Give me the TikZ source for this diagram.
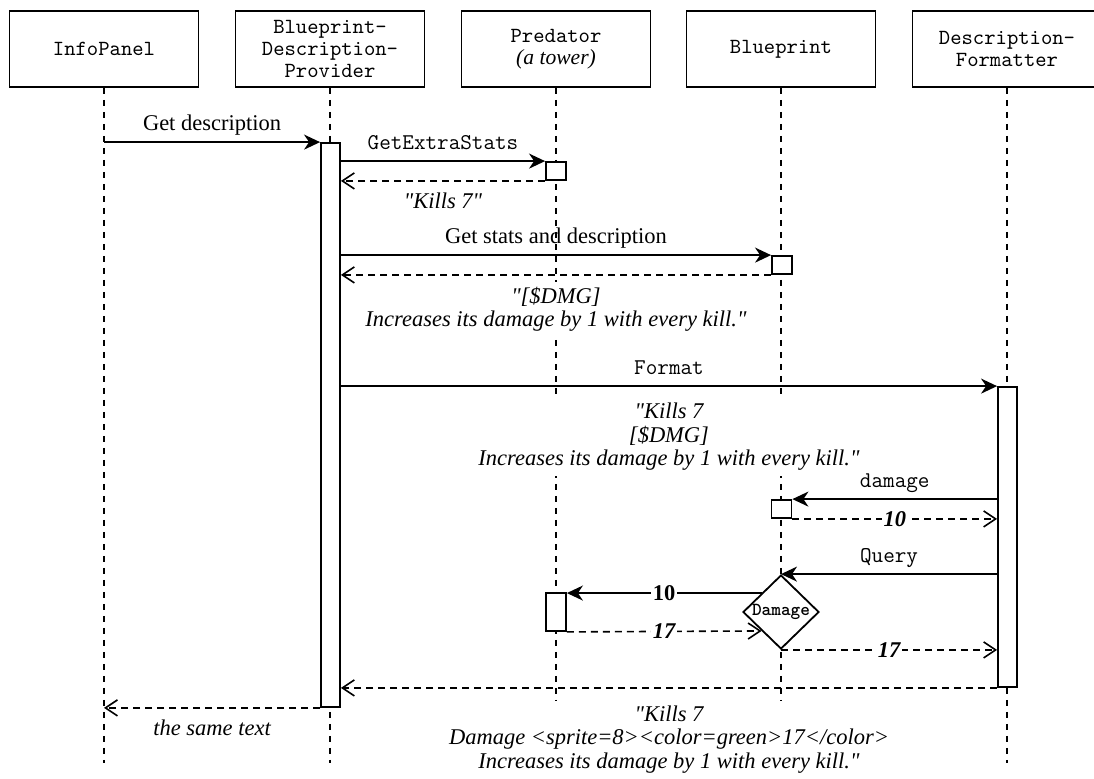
\documentclass[tikz,border=0pt]{standalone}
\usepackage{fontspec}
\setmainfont{Liberation Serif}[Ligatures=TeXOff]
\usepackage{tikz}
\usetikzlibrary{arrows.meta, shapes.geometric}

\begin{document}
\fontsize{11.25}{11.8}\selectfont
\begin{tikzpicture}[x=0.5pt, y=-0.5pt,
    head/.style={draw, line width=0.9pt, minimum width=94.5pt,
                 minimum height=38pt, align=center,
                 font=\ttfamily\fontsize{10.8}{11}\selectfont},
    life/.style={line width=0.8pt, dash pattern=on 3pt off 3pt},
    act/.style={draw, fill=white, line width=0.9pt, minimum width=9.5pt,
                inner sep=0pt},
    msg/.style={-{Stealth[length=8pt, width=7.5pt, inset=2.5pt]}, line width=0.9pt},
    ret/.style={-{Straight Barb[length=6pt, width=8pt]}, line width=0.8pt,
                dash pattern=on 3.5pt off 2.5pt},
    call/.style={anchor=base, yshift=6pt},
    code/.style={call, font=\ttfamily},
    reply/.style={below=3pt, inner sep=2.5pt, align=center, fill=white,
                  font=\itshape},
    val/.style={fill=white, inner sep=1pt, font=\bfseries\itshape}
  ]
    \useasboundingbox (0,0) rectangle (1094,778);
    \coordinate (end) at (0,763);
    % participants and lifelines
    \node[head] (ip) at (104,49) {InfoPanel};
    \node[head] (bdp) at (330,49) {Blueprint-\\Description-\\Provider};
    \node[head] (pred) at (556,49) {Predator\\{\rmfamily\itshape (a tower)}};
    \node[head] (bp) at (781,49) {Blueprint};
    \node[head] (df) at (1007,49) {Description-\\Formatter};
    \draw[life] (ip.south) -- (ip.south |- end);
    \draw[life] (bdp.south) -- (bdp.south |- end);
    \draw[life] (pred.south) -- (pred.south |- end);
    \draw[life] (bp.south) -- (bp.south |- end);
    \draw[life] (df.south) -- (df.south |- end);
    % activations
    \node[act, minimum height=282pt] (abdp) at (330.5,425) {};
    \node[act, minimum width=10pt, minimum height=9pt] (apred) at (556,171) {};
    \node[act, minimum width=10pt, minimum height=9pt] (abp) at (782,265) {};
    \node[act, minimum height=150pt] (adf) at (1007.5,537) {};
    \node[act, minimum width=10pt, minimum height=9pt] (abp2) at (781.5,509) {};
    \node[act, minimum width=10pt, minimum height=19pt] (apred2) at (556,612) {};
    \node[draw, diamond, fill=white, line width=0.9pt, minimum width=38pt,
          minimum height=37pt, inner sep=0pt,
          font=\ttfamily\bfseries\fontsize{9.2}{10}\selectfont] (dmg) at (781,612) {Damage};
    % messages
    \draw[msg] (ip.south |- abdp.north) -- (abdp.north west)
      node[call, midway] {Get description};
    \draw[msg] (abdp.east |- apred.north) -- (apred.north west)
      node[code, midway] {GetExtraStats};
    \draw[ret] (apred.south west) -- (abdp.east |- apred.south)
      node[reply, midway] {"Kills 7"};
    \draw[msg] (abdp.east |- abp.north) -- (abp.north west)
      node[call, midway] {Get stats and description};
    \draw[ret] (abp.south west) -- (abdp.east |- abp.south)
      node[reply, midway] {"[\$DMG]\\Increases its damage by 1 with every kill."};
    \draw[msg] (abdp.east |- adf.north) -- (adf.north west)
      node[code, midway] {Format}
      node[reply, midway, yshift=-2.5pt] {"Kills 7\\{[}\$DMG{]}\\Increases its damage by 1 with every kill."};
    \draw[msg] (adf.west |- abp2.north) -- (abp2.north east)
      node[code, midway] {damage};
    \draw[ret] (abp2.south east) -- (adf.west |- abp2.south)
      node[val, midway] {10};
    \draw[msg] (adf.west |- dmg.north) -- (dmg.north)
      node[code, midway] {Query};
    \draw[msg] (dmg.north west) -- (dmg.north west -| apred2.east)
      node[val, midway, font=\bfseries] {10};
    \draw[ret] (apred2.south east) -- (dmg.south west)
      node[val, midway] {17};
    \draw[ret] (dmg.south) -- (adf.west |- dmg.south)
      node[val, midway] {17};
    \draw[ret] (adf.south west) -- (abdp.east |- adf.south)
      node[reply, midway, yshift=-3pt] {"Kills 7\\Damage <sprite=8><color=green>17</color>\\Increases its damage by 1 with every kill."};
    \draw[ret] (abdp.south west) -- (ip.south |- abdp.south)
      node[reply, midway] {the same text};
  \end{tikzpicture}
\end{document}
